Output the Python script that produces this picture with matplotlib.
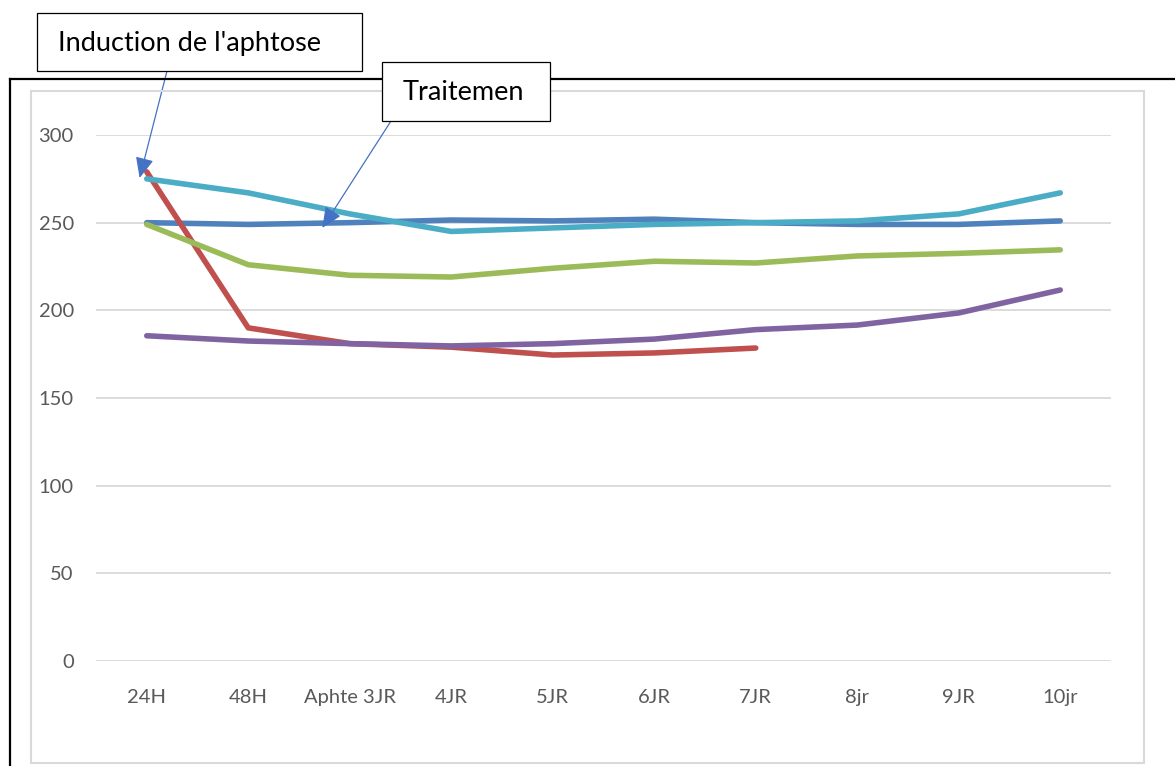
import matplotlib
matplotlib.use("Agg")
import matplotlib.pyplot as plt
from matplotlib.patches import Rectangle
from matplotlib.lines import Line2D

W, H = 1175, 766

# jours de suivi
jours = ["24H", "48H", "Aphte 3JR", "4JR", "5JR", "6JR", "7JR", "8jr", "9JR", "10jr"]

# series (dans l'ordre de trace)
serie_bleue = [250, 249, 250, 251.5, 251, 252, 250, 249, 249, 251]
serie_rouge = [279, 190, 181, 179, 174.5, 175.7, 178.5]
serie_verte = [249, 226, 220, 219, 224, 228, 227, 231, 232.5, 234.5]
serie_violette = [185.5, 182.5, 181, 179.7, 181, 183.6, 189, 191.6, 198.5, 211.6]
serie_cyan = [275, 267, 255, 245, 247, 249, 250, 251, 255, 267]

couleurs = ["#4F81BD", "#C0504D", "#9BBB59", "#8064A2", "#4BACC6"]

plt.rcParams['font.family'] = ['Lato', 'DejaVu Sans']


def fpos(x, y):
    # pixels (origine en haut a gauche) -> fraction de figure
    return x / W, 1 - y / H


fig = plt.figure(figsize=(W / 100, H / 100), dpi=100)

x0, y0 = fpos(96, 661)
x1, y1 = fpos(1111, 135)
ax = fig.add_axes([x0, y0, x1 - x0, y1 - y0])

for s, c in zip([serie_bleue, serie_rouge, serie_verte, serie_violette, serie_cyan], couleurs):
    ax.plot(range(len(s)), s, color=c, lw=4, solid_capstyle='round',
            solid_joinstyle='round', zorder=3)

ax.set_xlim(-0.5, len(jours) - 0.5)
ax.set_ylim(0, 300)
ax.set_yticks(range(0, 301, 50))
ax.set_xticks(range(len(jours)))
ax.set_xticklabels(jours)
ax.grid(axis='y', color='#D9D9D9', lw=1.3)
ax.set_axisbelow(True)
for sp in ax.spines.values():
    sp.set_visible(False)
ax.tick_params(length=0, labelsize=14.5, labelcolor='#595959')
ax.tick_params(axis='x', pad=20)
ax.tick_params(axis='y', pad=16)

# cadre gris du graphique
gx, gy = fpos(31, 763)
gx2, gy2 = fpos(1144, 91)
fig.add_artist(Rectangle((gx, gy), gx2 - gx, gy2 - gy, transform=fig.transFigure,
                         fill=False, ec='#D9D9D9', lw=1.5))

# cadre noir (haut et gauche)
bx, by = fpos(10, 79)
fig.add_artist(Line2D([bx, 1], [by, by], transform=fig.transFigure, color='black', lw=1.6))
fig.add_artist(Line2D([bx, bx], [by, 0], transform=fig.transFigure, color='black', lw=1.6))

# zones de texte avec fleches
def boite(x, y, w, h, texte, tx):
    rx, ry = fpos(x, y + h)
    rw, rh = w / W, h / H
    fig.add_artist(Rectangle((rx, ry), rw, rh, transform=fig.transFigure,
                             fc='white', ec='black', lw=0.9, zorder=5))
    fig.text(*fpos(tx, y + h / 2 + 1), texte, fontsize=19.5, color='black',
             va='center', ha='left', zorder=6)


fleche = dict(arrowstyle="-|>,head_length=0.9,head_width=0.4", color='#4472C4',
              lw=0.9, mutation_scale=14, shrinkA=0, shrinkB=0)

ax.annotate('', xy=(-0.07, 275.5), xycoords='data',
            xytext=fpos(167, 71), textcoords='figure fraction',
            arrowprops=fleche, annotation_clip=False)
ax.annotate('', xy=(1.73, 247), xycoords='data',
            xytext=fpos(391, 121), textcoords='figure fraction',
            arrowprops=fleche, annotation_clip=False)

boite(37, 13, 325, 58, "Induction de l'aphtose", 58)
boite(382, 62, 168, 59, "Traitemen", 403)

fig.savefig("out.png", dpi=100)
